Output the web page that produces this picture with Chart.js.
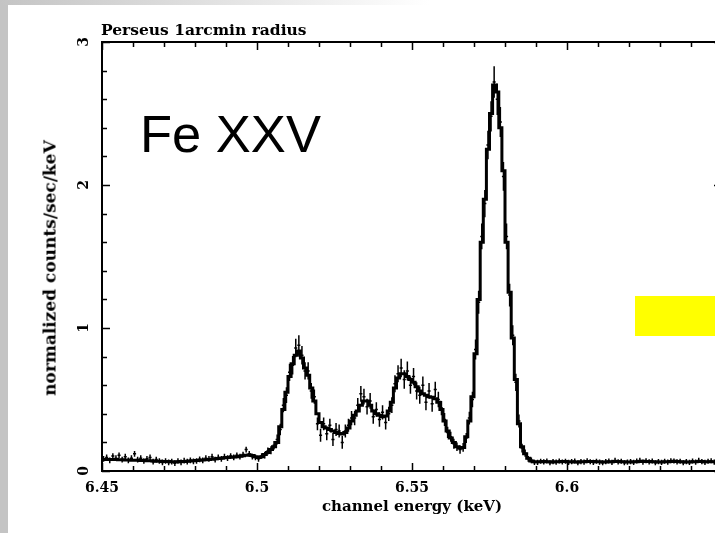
<!DOCTYPE html>
<html>
<head>
<meta charset="utf-8">
<title>Perseus 1arcmin radius</title>
<script src="https://cdn.jsdelivr.net/npm/chart.js@4.4.0/dist/chart.umd.min.js"></script>
<style>
  html, body { margin: 0; padding: 0; background: #fff; width: 715px; height: 533px; overflow: hidden; }
  #wrap { position: relative; width: 715px; height: 533px; overflow: hidden; }
  #plot { position: absolute; left: 0; top: 0; }
  .side { position: absolute; left: 0; top: 0; width: 8px; height: 533px; background: #c4c4c4; }
  .topbar { position: absolute; left: 0; top: 0; width: 715px; height: 5px;
            background: linear-gradient(to right, #c4c4c4 0%, #ffffff 60%); }
  .ptitle { position: absolute; left: 101px; top: 22px; font: bold 15.5px/15px "DejaVu Serif", serif; color: #000; white-space: nowrap; }
  .ytitle { position: absolute; left: 50px; top: 268px; transform: translate(-50%, -50%) rotate(-90deg);
            font: bold 17px/17px "DejaVu Serif", serif; color: #000; white-space: nowrap; }
  .ion { position: absolute; left: 140px; top: 108px; font: 52.5px/52px "Liberation Sans", Arial, sans-serif; color: #000; white-space: nowrap; }
  .mark { position: absolute; left: 635px; top: 296px; width: 80px; height: 40px; background: #ffff00; }
</style>
</head>
<body>
<div id="wrap">
  <canvas id="plot" width="722" height="533"></canvas>
  <div class="side"></div>
  <div class="topbar"></div>
  <div class="ptitle">Perseus 1arcmin radius</div>
  <div class="ytitle">normalized counts/sec/keV</div>
  <div class="ion">Fe XXV</div>
  <div class="mark"></div>
</div>
<script>
// channel grid: 1 eV bins starting at 6.4505 keV
const chanStart = 6.4505;
const chanStep = 0.001;

// folded model (thick histogram line)
const model = [
  0.080,0.080,0.080,0.080,0.080,0.078,0.078,0.077,0.077,0.076,
  0.076,0.075,0.074,0.073,0.072,0.071,0.070,0.069,0.068,0.067,
  0.066,0.066,0.065,0.065,0.065,0.066,0.067,0.068,0.070,0.071,
  0.073,0.075,0.077,0.079,0.081,0.083,0.086,0.088,0.090,0.092,
  0.094,0.096,0.098,0.100,0.103,0.106,0.110,0.112,0.108,0.100,
  0.095,0.100,0.115,0.130,0.150,0.170,0.200,0.310,0.430,0.550,
  0.660,0.750,0.810,0.840,0.790,0.720,0.670,0.580,0.490,0.400,
  0.340,0.310,0.300,0.290,0.280,0.270,0.262,0.258,0.270,0.300,
  0.350,0.390,0.420,0.460,0.490,0.490,0.460,0.420,0.400,0.390,
  0.380,0.385,0.420,0.480,0.580,0.650,0.680,0.680,0.660,0.640,
  0.620,0.590,0.560,0.540,0.530,0.520,0.515,0.505,0.480,0.430,
  0.350,0.280,0.230,0.200,0.170,0.160,0.165,0.240,0.350,0.520,
  0.820,1.200,1.600,1.900,2.250,2.500,2.700,2.650,2.400,2.100,
  1.600,1.250,0.930,0.640,0.330,0.170,0.120,0.090,0.070,0.065,
  0.064,0.065,0.066,0.065,0.064,0.063,0.064,0.065,0.066,0.066,
  0.065,0.064,0.063,0.063,0.064,0.065,0.066,0.067,0.066,0.065,
  0.064,0.063,0.063,0.064,0.065,0.066,0.066,0.065,0.064,0.063,
  0.063,0.064,0.065,0.067,0.068,0.067,0.066,0.065,0.064,0.063,
  0.063,0.064,0.065,0.066,0.068,0.067,0.065,0.064,0.063,0.063,
  0.064,0.065,0.066,0.066,0.065,0.064,0.064,0.065,0.065,0.064
];

// observed counts (crosses)
const observed = [
  0.085,0.095,0.075,0.105,0.090,0.110,0.080,0.100,0.075,0.090,
  0.120,0.080,0.090,0.070,0.085,0.095,0.065,0.080,0.070,0.060,
  0.070,0.060,0.065,0.055,0.070,0.060,0.072,0.065,0.075,0.068,
  0.070,0.082,0.075,0.090,0.085,0.100,0.080,0.095,0.085,0.100,
  0.090,0.105,0.095,0.110,0.100,0.115,0.150,0.120,0.100,0.095,
  0.085,0.105,0.110,0.140,0.145,0.180,0.220,0.290,0.460,0.530,
  0.690,0.740,0.860,0.880,0.810,0.700,0.700,0.560,0.520,0.330,
  0.250,0.330,0.260,0.320,0.220,0.290,0.280,0.200,0.280,0.320,
  0.370,0.370,0.460,0.540,0.520,0.450,0.490,0.380,0.430,0.360,
  0.410,0.340,0.400,0.460,0.610,0.680,0.720,0.640,0.700,0.600,
  0.660,0.560,0.530,0.600,0.480,0.560,0.470,0.570,0.500,0.440,
  0.360,0.270,0.240,0.190,0.170,0.150,0.165,0.230,0.370,0.500,
  0.850,1.180,1.640,1.870,2.280,2.480,2.720,2.600,2.440,2.060,
  1.640,1.230,0.950,0.620,0.350,0.160,0.125,0.085,0.075,0.060,
  0.060,0.068,0.064,0.070,0.058,0.066,0.062,0.070,0.063,0.068,
  0.060,0.066,0.070,0.058,0.066,0.062,0.072,0.065,0.060,0.068,
  0.062,0.058,0.066,0.070,0.060,0.074,0.064,0.068,0.058,0.062,
  0.066,0.060,0.070,0.074,0.062,0.072,0.064,0.070,0.058,0.066,
  0.060,0.068,0.062,0.072,0.070,0.064,0.068,0.058,0.066,0.060,
  0.070,0.062,0.074,0.066,0.060,0.068,0.072,0.062,0.066,0.060
];

// 1-sigma errors on the observed counts
const obsErr = [
  0.020,0.020,0.020,0.020,0.020,0.020,0.020,0.020,0.020,0.020,
  0.020,0.020,0.020,0.020,0.020,0.020,0.020,0.020,0.020,0.020,
  0.020,0.020,0.020,0.020,0.020,0.020,0.020,0.020,0.020,0.020,
  0.020,0.020,0.020,0.020,0.020,0.020,0.020,0.020,0.020,0.020,
  0.020,0.020,0.020,0.020,0.020,0.020,0.020,0.020,0.020,0.020,
  0.020,0.020,0.022,0.025,0.028,0.030,0.035,0.040,0.050,0.055,
  0.060,0.065,0.065,0.070,0.065,0.060,0.060,0.055,0.050,0.045,
  0.045,0.045,0.045,0.045,0.045,0.045,0.045,0.045,0.045,0.045,
  0.050,0.050,0.050,0.055,0.055,0.055,0.055,0.050,0.050,0.050,
  0.050,0.050,0.050,0.055,0.060,0.060,0.065,0.065,0.065,0.060,
  0.060,0.060,0.060,0.060,0.055,0.055,0.055,0.055,0.055,0.050,
  0.045,0.040,0.035,0.035,0.030,0.030,0.030,0.035,0.045,0.055,
  0.070,0.080,0.090,0.095,0.100,0.105,0.110,0.110,0.105,0.100,
  0.090,0.080,0.070,0.060,0.045,0.030,0.025,0.020,0.020,0.018,
  0.018,0.018,0.018,0.018,0.018,0.018,0.018,0.018,0.018,0.018,
  0.018,0.018,0.018,0.018,0.018,0.018,0.018,0.018,0.018,0.018,
  0.018,0.018,0.018,0.018,0.018,0.018,0.018,0.018,0.018,0.018,
  0.018,0.018,0.018,0.018,0.018,0.018,0.018,0.018,0.018,0.018,
  0.018,0.018,0.018,0.018,0.018,0.018,0.018,0.018,0.018,0.018,
  0.018,0.018,0.018,0.018,0.018,0.018,0.018,0.018,0.018,0.018
];

const xTicks = [6.45, 6.5, 6.55, 6.6];
const xTickLabels = ['6.45', '6.5', '6.55', '6.6'];
const yTicks = [0, 1, 2, 3];
const yTickLabels = ['0', '1', '2', '3'];

const serif = '"DejaVu Serif", serif';

const chanE = i => chanStart + i * chanStep;
const modelPts = model.map((v, i) => ({ x: chanE(i), y: v }));
const obsPts = observed.map((v, i) => ({ x: chanE(i), y: v }));

// crosses: one channel wide, +/- 1 sigma tall
const errorBars = {
  id: 'errorBars',
  afterDatasetsDraw(chart) {
    const { ctx, chartArea: a, scales: { x, y } } = chart;
    ctx.save();
    ctx.beginPath();
    ctx.rect(a.left, a.top, a.right - a.left, a.bottom - a.top);
    ctx.clip();
    ctx.strokeStyle = '#000';
    ctx.lineWidth = 1.5;
    ctx.beginPath();
    obsPts.forEach((p, i) => {
      const px = x.getPixelForValue(p.x);
      const py = y.getPixelForValue(p.y);
      const x0 = x.getPixelForValue(p.x - chanStep / 2);
      const x1 = x.getPixelForValue(p.x + chanStep / 2);
      ctx.moveTo(x0, py);
      ctx.lineTo(x1, py);
      ctx.moveTo(px, y.getPixelForValue(p.y - obsErr[i]));
      ctx.lineTo(px, y.getPixelForValue(p.y + obsErr[i]));
    });
    ctx.stroke();
    ctx.restore();
  }
};

// box with inward ticks on all four sides
const frame = {
  id: 'frame',
  afterDraw(chart) {
    const { ctx, chartArea: a, scales: { x, y } } = chart;
    ctx.save();
    ctx.strokeStyle = '#000';
    ctx.lineWidth = 2;
    ctx.strokeRect(a.left, a.top, a.right - a.left, a.bottom - a.top);
    ctx.lineWidth = 1.5;
    ctx.beginPath();
    for (let k = 0; k <= 20; k++) {
      const v = 6.45 + k * 0.01;
      const len = k % 5 === 0 ? 8 : 5;
      const px = Math.round(x.getPixelForValue(v)) + 0.5;
      ctx.moveTo(px, a.bottom); ctx.lineTo(px, a.bottom - len);
      ctx.moveTo(px, a.top); ctx.lineTo(px, a.top + len);
    }
    for (let k = 0; k <= 15; k++) {
      const v = k * 0.2;
      const len = k % 5 === 0 ? 8 : 5;
      const py = Math.round(y.getPixelForValue(v)) + 0.5;
      ctx.moveTo(a.left, py); ctx.lineTo(a.left + len, py);
      ctx.moveTo(a.right, py); ctx.lineTo(a.right - len, py);
    }
    ctx.stroke();
    ctx.restore();
  }
};

new Chart(document.getElementById('plot'), {
  type: 'line',
  data: {
    datasets: [
      {
        label: 'model',
        data: modelPts,
        stepped: 'middle',
        borderColor: '#000',
        borderWidth: 3,
        pointRadius: 0,
        fill: false
      },
      {
        label: 'data',
        data: obsPts,
        showLine: false,
        pointRadius: 0,
        borderColor: '#000'
      }
    ]
  },
  options: {
    responsive: false,
    animation: false,
    devicePixelRatio: 1,
    layout: { padding: { left: 0, right: 0, top: 42, bottom: 0 } },
    plugins: { legend: { display: false }, tooltip: { enabled: false } },
    scales: {
      x: {
        type: 'linear',
        min: 6.45,
        max: 6.65,
        grid: { display: false, drawTicks: false },
        border: { display: false },
        afterBuildTicks: s => { s.ticks = xTicks.map(v => ({ value: v })); },
        afterFit: s => { s.height = 62; },
        ticks: {
          color: '#000',
          padding: 9,
          maxRotation: 0,
          font: { family: serif, weight: 'bold', size: 14 },
          callback: v => xTickLabels[xTicks.indexOf(v)]
        },
        title: {
          display: true,
          text: 'channel energy (keV)',
          color: '#000',
          font: { family: serif, weight: 'bold', size: 15 },
          padding: { top: 0, bottom: 17 }
        }
      },
      y: {
        type: 'linear',
        min: 0,
        max: 3,
        grid: { display: false, drawTicks: false },
        border: { display: false },
        afterBuildTicks: s => { s.ticks = yTicks.map(v => ({ value: v })); },
        afterFit: s => { s.width = 102; },
        ticks: {
          color: '#000',
          padding: 13,
          minRotation: 90,
          maxRotation: 90,
          crossAlign: 'center',
          font: { family: serif, weight: 'bold', size: 14 },
          callback: v => yTickLabels[yTicks.indexOf(v)]
        },
        title: { display: false }
      }
    }
  },
  plugins: [errorBars, frame]
});
</script>
</body>
</html>
